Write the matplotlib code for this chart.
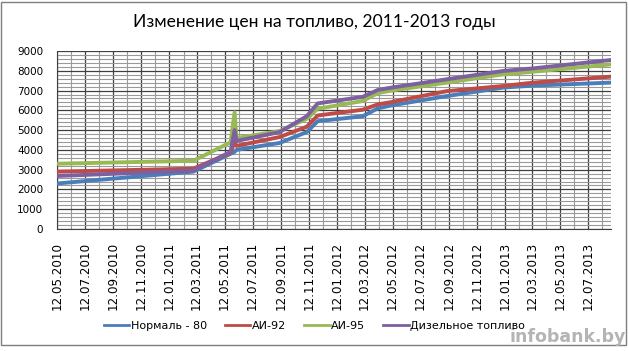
import datetime as dt
import matplotlib
matplotlib.use("Agg")
import matplotlib.pyplot as plt
import matplotlib.dates as mdates
from matplotlib.lines import Line2D

# price change dates and prices
dates = ["12.05.2010", "05.03.2011", "25.05.2011", "03.06.2011", "07.06.2011",
         "09.09.2011", "07.11.2011", "01.12.2011", "08.03.2012", "10.04.2012",
         "10.05.2012", "07.09.2012", "08.01.2013", "14.03.2013", "29.08.2013"]
normal80 = [2300, 2900, 3800, 3900, 4000, 4350, 4900, 5450, 5700, 6100,
            6250, 6720, 7150, 7250, 7400]
ai92 = [2900, 3050, 3850, 4400, 4200, 4650, 5170, 5740, 6030, 6300,
        6420, 6970, 7230, 7400, 7700]
ai95 = [3300, 3450, 4380, 5900, 4600, 4950, 5570, 6080, 6470, 6870,
        7000, 7400, 7820, 7950, 8320]
diesel = [2680, 2950, 3900, 5000, 4450, 4900, 5700, 6350, 6680, 7030,
          7150, 7570, 7990, 8120, 8540]

series_names = ["Нормаль - 80", "АИ-92", "АИ-95", "Дизельное топливо"]
colors = ["#4a7ebb", "#be4b48", "#98b954", "#7d60a0"]

x = [dt.datetime.strptime(d, "%d.%m.%Y") for d in dates]

fig = plt.figure(figsize=(6.29, 3.51), dpi=100)
W, H = 629, 351
ax = fig.add_axes([57 / W, 1 - 229 / H, (611 - 57) / W, (229 - 51) / H])

for vals, c in zip([normal80, ai92, ai95, diesel], colors):
    ax.plot(x, vals, color=c, lw=2.8, solid_joinstyle="round", zorder=3)

ax.set_xlim(dt.datetime(2010, 5, 12), dt.datetime(2013, 8, 31))
ax.set_ylim(0, 9000)
ax.set_yticks(range(0, 9001, 1000))
ax.set_yticks(range(0, 9001, 200), minor=True)
ax.xaxis.set_major_locator(mdates.MonthLocator(bymonth=[1, 3, 5, 7, 9, 11], bymonthday=12))
ax.xaxis.set_minor_locator(mdates.MonthLocator(bymonthday=12))
ax.xaxis.set_major_formatter(mdates.DateFormatter("%d.%m.%Y"))

ax.grid(which="major", color="#404040", lw=0.9)
ax.grid(which="minor", color="#9a9a9a", lw=0.8)
ax.set_axisbelow(True)
for s in ["top", "right"]:
    ax.spines[s].set_visible(False)
for s in ["left", "bottom"]:
    ax.spines[s].set_color("#404040")

ax.tick_params(axis="both", which="both", length=0)
ax.tick_params(axis="y", labelsize=7.5, pad=10)
ax.tick_params(axis="x", labelsize=8.6, pad=9, labelrotation=90)

fig.text(0.5, 1 - 22 / H, "Изменение цен на топливо, 2011-2013 годы",
         ha="center", va="center", fontsize=12.6, family="Lato")

handles = [Line2D([], [], color=c, lw=2) for c in colors]
fig.legend(handles, series_names, loc="center", bbox_to_anchor=(0.5, 1 - 326 / H),
           ncol=4, frameon=False, fontsize=8, handlelength=2.3, handletextpad=0.15,
           columnspacing=1.6)

# outer border
fig.patches.append(plt.Rectangle((1 / W, 6 / H), (626 - 1) / W, (349 - 6) / H,
                                 transform=fig.transFigure, fill=False,
                                 edgecolor="#7f7f7f", lw=1))
fig.text(626 / W, 1 - 337 / H, "infobank.by", ha="right", va="center",
         fontsize=12.5, weight="bold", color="#b4b4b4")

fig.savefig("out.png", dpi=100)
